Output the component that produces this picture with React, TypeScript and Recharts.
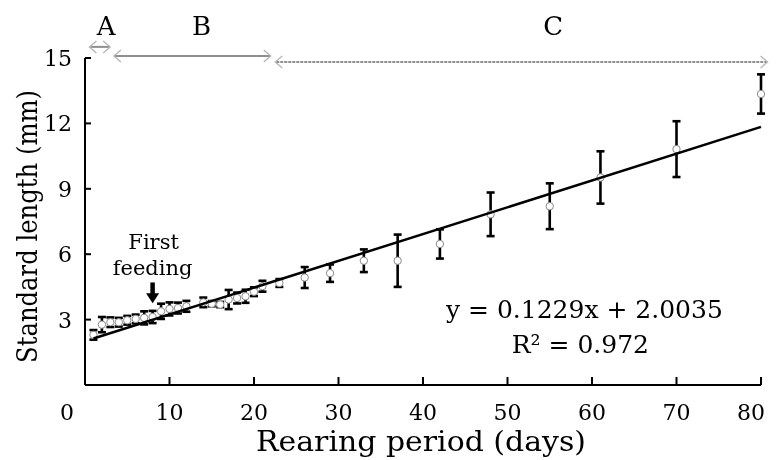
import { ScatterChart, Scatter, XAxis, YAxis, ErrorBar, ReferenceLine, ReferenceDot, Label } from "recharts";

// rearing day, mean standard length (mm) and its SD
const days = [1, 2, 3, 4, 5, 6, 7, 8, 9, 10, 11, 12, 14, 15, 16, 17, 18, 19, 20, 21, 23, 26, 29, 33, 37, 42, 48, 55, 61, 70, 80];
const meanLength = [2.3, 2.77, 2.88, 2.88, 2.97, 3.03, 3.08, 3.12, 3.38, 3.49, 3.53, 3.61, 3.79, 3.73, 3.69, 3.92, 3.99, 4.07, 4.28, 4.53, 4.68, 4.93, 5.13, 5.7, 5.7, 6.47, 7.83, 8.2, 9.52, 10.82, 13.35];
const sdLength = [0.22, 0.35, 0.22, 0.2, 0.2, 0.2, 0.3, 0.28, 0.35, 0.3, 0.25, 0.25, 0.22, 0.12, 0.12, 0.44, 0.25, 0.3, 0.2, 0.25, 0.18, 0.48, 0.4, 0.52, 1.2, 0.67, 1.0, 1.05, 1.2, 1.28, 0.9];

// linear fit y = 0.1229x + 2.0035, end points
const trendDays = [1, 80];
const trendLength = [2.13, 11.84];

const xTicks = [0, 10, 20, 30, 40, 50, 60, 70, 80];
const yTicks = [3, 6, 9, 12, 15];

// developmental phases (days)
const phaseNames = ["A", "B", "C"];
const phaseStart = [0.4, 3.3, 22.4];
const phaseEnd = [3.1, 22.1, 80.9];

const firstFeedingDay = 8;

// layout bits
const phaseArrowY = [15.51, 15.09, 14.82];
const phaseLabelDay = [2.5, 13.8, 55.4];
const FONT = "'DejaVu Serif', serif";

const data = days.map((d, i) => ({ x: d, y: meanLength[i], sd: sdLength[i] }));
const trend = trendDays.map((d, i) => ({ x: d, y: trendLength[i] }));

function XTick({ x, y, payload }: any) {
  const v = payload.value;
  const dx = v === 0 ? -18 : v === 80 ? -10 : 0;
  return (
    <g>
      {v !== 0 && <line x1={x} y1={y} x2={x} y2={y - 8} stroke="#000" strokeWidth={2} />}
      <text x={x + dx} y={y + 35} textAnchor="middle" fontSize={22} fontFamily={FONT} fill="#000">
        {v}
      </text>
    </g>
  );
}

function YTick({ x, y, payload }: any) {
  return (
    <g>
      <line x1={x} y1={y} x2={x + 6} y2={y} stroke="#000" strokeWidth={2} />
      <text x={x - 13} y={y + 8} textAnchor="end" fontSize={22} fontFamily={FONT} fill="#000">
        {payload.value}
      </text>
    </g>
  );
}

function PhaseArrow({ x1, y1, x2, y2, dashed }: any) {
  return (
    <g>
      <line x1={x1 + 2} y1={y1} x2={x2 - 2} y2={y2} stroke="#8f8f8f" strokeWidth={2} strokeDasharray={dashed ? "3 1" : undefined} />
      <polyline points={`${x1 + 8},${y1 - 6} ${x1 + 1},${y1} ${x1 + 8},${y1 + 6}`} fill="none" stroke="#b5b5b5" strokeWidth={1.3} />
      <polyline points={`${x2 - 8},${y2 - 6} ${x2 - 1},${y2} ${x2 - 8},${y2 + 6}`} fill="none" stroke="#b5b5b5" strokeWidth={1.3} />
    </g>
  );
}

function FeedingArrow({ x1, y1, x2, y2 }: any) {
  return (
    <g>
      <text x={x1 + 1} y={y1 - 32} textAnchor="middle" fontSize={21} fontFamily={FONT} fill="#000">First</text>
      <text x={x1} y={y1 - 6} textAnchor="middle" fontSize={21} fontFamily={FONT} fill="#000">feeding</text>
      <line x1={x1} y1={y1 + 1} x2={x2} y2={y2 - 9} stroke="#000" strokeWidth={4.5} />
      <polygon points={`${x2 - 6.5},${y2 - 10} ${x2 + 6.5},${y2 - 10} ${x2},${y2}`} fill="#000" />
    </g>
  );
}

export default function App() {
  return (
    <div style={{ position: "fixed", left: 0, top: 0 }}>
      <ScatterChart width={778} height={460} margin={{ top: 58, right: 17, bottom: 35, left: 25 }}>
        <XAxis
          type="number"
          dataKey="x"
          domain={[0, 80]}
          ticks={xTicks}
          height={40}
          tickSize={0}
          tickMargin={0}
          tickLine={false}
          axisLine={{ stroke: "#000", strokeWidth: 2 }}
          tick={(p: any) => <XTick {...p} />}
        >
          <Label
            content={({ viewBox }: any) => (
              <text
                x={viewBox.x + viewBox.width / 2 - 2}
                y={viewBox.y + 66}
                textAnchor="middle"
                fontSize={27}
                fontFamily={FONT}
                fill="#000"
                textLength={330}
                lengthAdjust="spacingAndGlyphs"
              >
                Rearing period (days)
              </text>
            )}
          />
        </XAxis>
        <YAxis
          type="number"
          dataKey="y"
          domain={[0, 15]}
          ticks={yTicks}
          width={60}
          tickSize={0}
          tickMargin={0}
          tickLine={false}
          axisLine={{ stroke: "#000", strokeWidth: 2 }}
          tick={(p: any) => <YTick {...p} />}
        >
          <Label
            content={({ viewBox }: any) => {
              const cx = viewBox.x + 12;
              const cy = viewBox.y + viewBox.height / 2 + 5;
              return (
                <text
                  x={cx}
                  y={cy}
                  transform={`rotate(-90 ${cx} ${cy})`}
                  textAnchor="middle"
                  fontSize={27}
                  fontFamily={FONT}
                  fill="#000"
                  textLength={273}
                  lengthAdjust="spacingAndGlyphs"
                >
                  Standard length (mm)
                </text>
              );
            }}
          />
        </YAxis>

        {phaseNames.map((name, i) => (
          <ReferenceLine
            key={`arrow-${name}`}
            segment={[
              { x: phaseStart[i], y: phaseArrowY[i] },
              { x: phaseEnd[i], y: phaseArrowY[i] },
            ]}
            ifOverflow="visible"
            shape={(p: any) => <PhaseArrow {...p} dashed={i === 2} />}
          />
        ))}
        {phaseNames.map((name, i) => (
          <ReferenceDot
            key={`label-${name}`}
            x={phaseLabelDay[i]}
            y={16.06}
            ifOverflow="visible"
            shape={(p: any) => (
              <text x={p.cx} y={p.cy} textAnchor="middle" fontSize={26} fontFamily={FONT} fill="#000">
                {name}
              </text>
            )}
          />
        ))}

        <ReferenceLine
          segment={[
            { x: firstFeedingDay, y: 4.75 },
            { x: firstFeedingDay, y: 3.75 },
          ]}
          ifOverflow="visible"
          shape={(p: any) => <FeedingArrow {...p} />}
        />

        <ReferenceDot
          x={59.1}
          y={3.09}
          ifOverflow="visible"
          shape={(p: any) => (
            <g>
              <text x={p.cx} y={p.cy} textAnchor="middle" fontSize={25} fontFamily={FONT} fill="#000">
                y = 0.1229x + 2.0035
              </text>
              <text x={p.cx - 4} y={p.cy + 35} textAnchor="middle" fontSize={25} fontFamily={FONT} fill="#000">
                R² = 0.972
              </text>
            </g>
          )}
        />

        <Scatter
          data={data}
          isAnimationActive={false}
          shape={(p: any) => <circle cx={p.cx} cy={p.cy} r={3.7} fill="#fff" stroke="#8a8a8a" strokeWidth={1} />}
        >
          <ErrorBar dataKey="sd" direction="y" width={4} stroke="#000" strokeWidth={2.6} />
        </Scatter>
        <Scatter
          data={trend}
          isAnimationActive={false}
          line={{ stroke: "#000", strokeWidth: 2.5 }}
          shape={() => <g />}
        />
      </ScatterChart>
    </div>
  );
}
